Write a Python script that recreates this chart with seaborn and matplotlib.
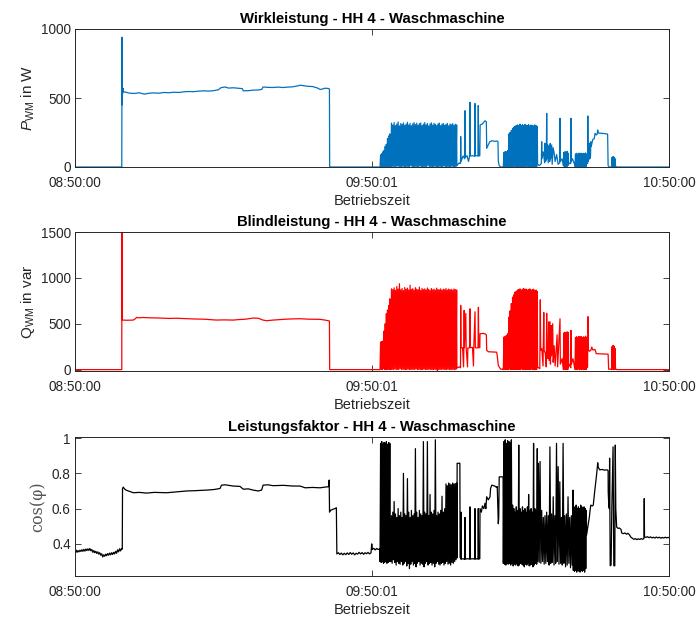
import numpy as np
import pandas as pd
import matplotlib
matplotlib.use("Agg")
import matplotlib.pyplot as plt
from matplotlib.font_manager import FontProperties
import seaborn as sns

# ---------------------------------------------------------------------------
# Time axis: minutes after 08:50:00
# ---------------------------------------------------------------------------
TICK_MIN = [0.0, 60.0167, 120.0]
TICK_LABELS = ["08:50:00", "09:50:01", "10:50:00"]

# ---------------------------------------------------------------------------
# Active power P (W): (minute, value) runs and switching bursts
# ---------------------------------------------------------------------------
P_WASH = [(0, 0), (9.45, 0), (9.5, 940), (9.52, 450), (9.56, 575), (9.6, 530),
          (9.7, 570), (9.8, 545), (10.5, 540), (11, 535), (12, 533), (13, 538),
          (14, 528), (15, 535), (16, 537), (17, 535), (18, 540), (19, 538),
          (20, 542), (21, 540), (22, 545), (23, 547), (24, 546), (25, 550),
          (26, 552), (27, 550), (28, 553), (29, 560), (29.5, 575), (30.3, 580),
          (31, 572), (32, 574), (33, 571), (33.8, 568), (34.0, 552), (35, 553),
          (36, 557), (37, 558), (37.7, 562), (38.0, 580), (39, 577), (40, 576),
          (41, 579), (42, 576), (43, 579), (44, 581), (45, 588), (45.5, 593),
          (46, 590), (47, 585), (48, 583), (49, 572), (49.5, 562), (50, 565),
          (50.5, 571), (51.2, 569), (51.4, 565), (51.45, 0), (61.55, 0)]
P_SPIN1_SPAN = (61.62, 63.60)
P_SPIN1_HI = [88, 96, 110, 120, 150, 165, 205, 225, 240]
P_SPIN1_LO = [0, 3, 0, 5, 0, 2, 0, 4, 0]
P_GAP1 = [(63.68, 4), (63.75, 6)]
P_SPIN2_SPAN = (63.80, 77.10)
P_SPIN2_HI = [318, 305, 322, 300, 312, 326, 298, 315, 309, 320,
              302, 311, 324, 305, 316, 299, 313, 321, 307, 318,
              303, 314, 319, 300, 310, 322, 306, 315, 298, 312,
              320, 304, 317, 309, 301, 313, 318, 300, 311, 315,
              303, 309, 316, 299, 312, 307, 314, 302, 310, 305]
P_SPIN2_LO = [2, 0, 5, 1, 0, 8, 0, 3, 0, 6, 1, 0, 4, 0, 2, 10, 0, 3, 0, 5,
              0, 2, 7, 0, 1, 0, 4, 0, 12, 0, 3, 0, 1, 6, 0, 2, 0, 5, 0, 1,
              8, 0, 3, 0, 2, 0, 6, 0, 1, 4]
P_RINSE1 = [(77.15, 10), (77.6, 30), (77.88, 25), (77.92, 220), (77.97, 40),
            (78.4, 80), (78.72, 60), (78.79, 408), (78.85, 70), (79.2, 82),
            (79.5, 40), (79.72, 80), (79.8, 469), (79.87, 80), (80.3, 82),
            (80.72, 78), (80.81, 460), (80.88, 80), (81.2, 82), (81.4, 80),
            (81.47, 445), (81.55, 80), (81.78, 82), (81.85, 305), (82.3, 312),
            (82.6, 325), (82.83, 335), (83.1, 328), (83.17, 135), (83.5, 162),
            (83.8, 183), (84.2, 190), (84.8, 186), (85.3, 188), (85.45, 183),
            (85.52, 40), (85.7, 10), (86.0, 0), (86.48, 0)]
P_SPIN3_SPAN = (86.53, 93.39)
P_SPIN3_HI = [105, 112, 110, 118, 240, 250, 265, 280, 288, 296,
              300, 305, 298, 310, 302, 306, 299, 308, 303, 300,
              307, 296, 304, 301, 298, 305, 300, 292]
P_SPIN3_LO = [0, 2, 0, 5, 0, 3, 0, 1, 0, 6, 0, 2, 0, 4, 0, 1, 0, 3, 0, 7,
              0, 2, 0, 1, 0, 5, 0, 2]
P_RINSE2 = [(93.45, 20), (93.8, 10), (94.2, 25), (94.28, 183), (94.35, 60),
            (94.6, 110), (94.88, 30), (94.95, 172), (95.02, 40), (95.22, 50),
            (95.29, 389), (95.36, 60), (95.5, 160), (95.6, 30), (95.8, 150),
            (95.9, 40), (96.0, 170), (96.1, 60), (96.3, 160), (96.4, 20),
            (96.6, 140), (96.8, 100), (97.0, 40), (97.3, 90), (97.6, 20),
            (97.92, 30), (97.98, 353), (98.05, 40), (98.4, 60), (98.6, 20)]
P_SPIN4_SPAN = (98.65, 99.66)
P_SPIN4_HI = [105, 111, 108, 113, 100]
P_SPIN4_LO = [10, 0, 5, 0, 8]
P_RINSE3 = [(99.72, 20), (100.0, 30), (100.15, 25), (100.2, 353), (100.26, 40),
            (100.5, 60), (100.8, 30), (100.95, 20)]
P_SPIN5_SPAN = (101.0, 103.37)
P_SPIN5_HI = [95, 99, 92, 101, 97, 100, 94, 99, 96, 102, 93]
P_SPIN5_LO = [5, 0, 8, 0, 3, 0, 6, 0, 2, 0, 4]
P_DRAIN = [(103.45, 30), (103.55, 25), (103.6, 370), (103.66, 40), (103.85, 60),
           (103.9, 172), (104.0, 60), (104.15, 80), (104.2, 183), (104.3, 150),
           (104.6, 200), (104.9, 205), (105.05, 244), (105.3, 232), (105.5, 240),
           (105.6, 268), (105.72, 246), (106.5, 244), (107.0, 242), (107.6, 238),
           (107.7, 10), (108.0, 0), (108.35, 0)]
P_SPIN6_SPAN = (108.4, 109.1)
P_SPIN6_HI = [70, 75, 72, 60]
P_SPIN6_LO = [0, 5, 0, 2]
P_END = [(109.2, 4), (109.5, 0), (120, 0)]

# ---------------------------------------------------------------------------
# Reactive power Q (var)
# ---------------------------------------------------------------------------
Q_WASH = [(0, 0), (9.45, 0), (9.48, 1650), (9.52, 545), (9.7, 540), (10.5, 538),
          (11.78, 540), (12.2, 555), (12.45, 569), (13.0, 565), (13.8, 568),
          (15.0, 565), (17.2, 562), (19.0, 558), (20.5, 560), (22.56, 555),
          (24.0, 552), (26.0, 550), (28.6, 540), (30.0, 542), (31.98, 540),
          (33.0, 545), (34.5, 550), (36.0, 562), (37.0, 560), (38.0, 540),
          (38.7, 533), (40.0, 540), (42.1, 548), (43.5, 552), (45.45, 555),
          (47.0, 550), (49.5, 548), (50.5, 540), (51.2, 533), (51.4, 530),
          (51.45, 0), (61.55, 0)]
Q_SPIN1_HI = [300, 305, 311, 420, 500, 608, 650, 700, 772]
Q_SPIN1_LO = [0, 5, 0, 10, 0, 3, 0, 8, 0]
Q_GAP1 = [(63.68, 5), (63.75, 8)]
Q_SPIN2_HI = [880, 872, 891, 865, 905, 878, 936, 870, 884, 862,
              895, 876, 888, 868, 920, 874, 882, 866, 893, 877,
              870, 899, 864, 885, 872, 880, 868, 890, 875, 862,
              884, 870, 877, 866, 888, 873, 869, 880, 865, 876,
              871, 883, 867, 878, 870, 874, 866, 879, 872, 868]
Q_SPIN2_LO = [0, 3, 0, 8, 0, 2, 0, 12, 0, 5, 0, 1, 0, 6, 0, 2, 0, 4, 0, 9,
              0, 3, 0, 1, 0, 7, 0, 2, 0, 5, 0, 1, 0, 4, 0, -20, 0, 3, 0, 6,
              0, 2, 0, 5, 0, 1, 0, 3, 0, 2]
Q_RINSE1 = [(77.15, 17), (77.6, 30), (77.88, 20), (77.92, 700), (77.98, 239),
            (78.3, 239), (78.5, 30), (78.56, 239), (78.62, 646), (78.68, 239),
            (78.95, 613), (79.02, 239), (79.3, 30), (79.36, 235), (79.72, 239),
            (79.8, 663), (79.87, 239), (80.3, 242), (80.5, 40), (80.56, 239),
            (80.81, 630), (80.88, 239), (81.2, 236), (81.42, 239), (81.5, 680),
            (81.56, 239), (81.78, 240), (81.82, 391), (82.5, 395), (82.83, 390),
            (83.1, 380), (83.17, 210), (83.5, 195), (84.5, 192), (85.19, 190),
            (85.3, 150), (85.52, 47), (85.8, 20), (86.0, 5), (86.48, 5)]
Q_SPIN3_HI = [355, 362, 375, 391, 572, 640, 720, 790, 815, 844,
              855, 868, 872, 880, 866, 875, 884, 870, 878, 868,
              873, 880, 865, 871, 876, 862, 868, 850]
Q_SPIN3_LO = [0, 4, 0, 2, 0, 6, 0, 1, 0, 3, 0, 5, 0, 2, 0, 8, 0, 1, 0, 4,
              0, 2, 0, 6, 0, 1, 0, 3]
Q_RINSE2 = [(93.45, 30), (93.9, 10), (94.0, 761), (94.08, 210), (94.3, 230),
            (94.55, 40), (94.7, 622), (94.78, 210), (95.0, 180), (95.2, 30),
            (95.29, 614), (95.36, 200), (95.55, 120), (95.7, 520), (95.78, 100),
            (95.96, 522), (96.05, 60), (96.2, 480), (96.3, 150), (96.5, 500),
            (96.6, 80), (96.8, 260), (97.0, 40), (97.4, 380), (97.5, 30),
            (97.98, 554), (98.05, 60), (98.4, 120), (98.6, 20)]
Q_SPIN4_HI = [400, 409, 395, 412, 405]
Q_SPIN4_LO = [0, 5, 0, 3, 0]
Q_RINSE3 = [(99.72, 30), (100.0, 60), (100.15, 20), (100.2, 427), (100.28, 60),
            (100.6, 120), (100.95, 20)]
Q_SPIN5_HI = [350, 358, 345, 362, 355, 360, 348, 357, 352, 365, 350]
Q_SPIN5_LO = [0, 5, 0, 8, 0, 3, 0, 6, 0, 2, 0]
Q_DRAIN = [(103.45, 20), (103.55, 30), (103.62, 577), (103.7, 220), (103.9, 200),
           (104.2, 210), (104.4, 246), (104.6, 215), (105.05, 220), (105.3, 174),
           (106.0, 172), (107.0, 170), (107.7, 168), (107.8, 5), (108.35, 5)]
Q_SPIN6_HI = [250, 264, 255, 230]
Q_SPIN6_LO = [0, 5, 0, 2]
Q_END = [(109.2, 5), (109.5, 0), (120, 0)]

# ---------------------------------------------------------------------------
# Power factor cos(phi)
# ---------------------------------------------------------------------------
C_STANDBY = [(0.0, 0.356), (0.2, 0.366), (0.4, 0.352), (0.6, 0.362), (0.8, 0.355),
             (1.0, 0.364), (1.2, 0.357), (1.4, 0.367), (1.6, 0.358), (1.8, 0.369),
             (2.0, 0.359), (2.2, 0.371), (2.4, 0.362), (2.6, 0.372), (2.8, 0.363),
             (3.0, 0.374), (3.2, 0.361), (3.4, 0.368), (3.6, 0.352), (3.8, 0.362),
             (4.0, 0.350), (4.2, 0.358), (4.4, 0.346), (4.6, 0.355), (4.8, 0.342),
             (5.0, 0.350), (5.2, 0.336), (5.4, 0.344), (5.6, 0.326), (5.8, 0.338),
             (6.0, 0.330), (6.2, 0.342), (6.4, 0.333), (6.6, 0.345), (6.8, 0.336),
             (7.0, 0.348), (7.2, 0.338), (7.4, 0.350), (7.6, 0.340), (7.8, 0.352),
             (8.0, 0.343), (8.2, 0.358), (8.4, 0.347), (8.6, 0.366), (8.8, 0.355),
             (9.0, 0.372), (9.2, 0.360), (9.4, 0.374), (9.55, 0.370)]
C_WASH = [(9.6, 0.714), (9.75, 0.722), (10.0, 0.712), (10.3, 0.705), (11.0, 0.698),
          (11.78, 0.690), (13.0, 0.692), (14.48, 0.688), (16.0, 0.692), (18.52, 0.690),
          (20.5, 0.695), (22.56, 0.700), (24.5, 0.702), (26.6, 0.705), (28.0, 0.708),
          (29.29, 0.714), (29.6, 0.733), (30.3, 0.735), (31.98, 0.728), (33.33, 0.726),
          (34.0, 0.710), (35.0, 0.712), (36.0, 0.705), (37.0, 0.700), (37.7, 0.705),
          (38.0, 0.733), (39.0, 0.735), (40.0, 0.730), (42.1, 0.732), (44.0, 0.728),
          (45.45, 0.728), (46.5, 0.718), (48.0, 0.720), (49.5, 0.718), (50.5, 0.722),
          (51.2, 0.724), (51.35, 0.762), (51.42, 0.580), (51.6, 0.590), (52.0, 0.595),
          (52.5, 0.600), (52.8, 0.605)]
C_IDLE = [(52.9, 0.343), (53.2, 0.350), (53.5, 0.340), (53.8, 0.348), (54.1, 0.338),
          (54.4, 0.347), (54.7, 0.339), (55.0, 0.349), (55.3, 0.340), (55.6, 0.351),
          (55.9, 0.341), (56.2, 0.349), (56.5, 0.338), (56.8, 0.347), (57.1, 0.342),
          (57.4, 0.352), (57.7, 0.343), (58.0, 0.351), (58.3, 0.341), (58.6, 0.350),
          (58.9, 0.344), (59.2, 0.352), (59.5, 0.343), (59.8, 0.350), (59.95, 0.400),
          (60.05, 0.368), (60.35, 0.375), (60.65, 0.366), (60.95, 0.374),
          (61.25, 0.368), (61.55, 0.372)]
C_SPIN1_HI = [0.97, 0.98, 0.96, 0.975, 0.97, 0.98, 0.965, 0.975, 0.97]
C_SPIN1_LO = [0.30, 0.295, 0.30, 0.29, 0.295, 0.30, 0.29, 0.295, 0.30]
C_GAP1 = [(63.68, 0.30), (63.75, 0.30)]
C_SPIN2_HI = [0.56, 0.58, 0.64, 0.57, 0.55, 0.60, 0.56, 0.58, 0.55, 0.80,
              0.57, 0.56, 0.77, 0.58, 0.55, 0.59, 0.56, 0.57, 0.94, 0.58,
              0.55, 0.59, 0.57, 0.56, 0.98, 0.58, 0.57, 0.98, 0.56, 0.68,
              0.58, 0.57, 0.59, 0.99, 0.56, 0.58, 0.57, 0.59, 0.67, 0.58,
              0.60, 0.74, 0.73, 0.745, 0.74, 0.735, 0.745, 0.74, 0.742, 0.745]
C_SPIN2_LO = [0.30, 0.29, 0.31, 0.295, 0.28, 0.30, 0.29, 0.285, 0.30, 0.28,
              0.29, 0.30, 0.275, 0.29, 0.26, 0.285, 0.30, 0.28, 0.29, 0.27,
              0.29, 0.30, 0.28, 0.29, 0.285, 0.27, 0.29, 0.30, 0.28, 0.29,
              0.295, 0.28, 0.29, 0.27, 0.29, 0.30, 0.285, 0.28, 0.29, 0.295,
              0.28, 0.29, 0.30, 0.285, 0.29, 0.28, 0.295, 0.29, 0.30, 0.31]
C_RINSE1 = [(77.15, 0.32), (77.2, 0.857), (77.75, 0.857), (77.8, 0.324), (77.95, 0.314),
            (78.0, 0.58), (78.05, 0.314), (78.4, 0.316), (78.7, 0.312), (78.79, 0.55),
            (78.85, 0.314), (79.3, 0.316), (79.72, 0.314), (79.8, 0.61), (79.87, 0.314),
            (80.3, 0.316), (80.74, 0.314), (80.81, 0.60), (80.88, 0.314), (81.2, 0.316),
            (81.4, 0.314), (81.47, 0.60), (81.55, 0.314), (81.78, 0.316), (81.82, 0.60),
            (82.1, 0.58), (82.3, 0.615), (82.6, 0.60), (82.83, 0.63), (83.0, 0.60),
            (83.17, 0.667), (83.5, 0.65), (83.84, 0.667), (83.95, 0.714), (84.2, 0.733),
            (84.8, 0.728), (85.19, 0.72), (85.3, 0.725), (85.52, 0.514), (85.6, 0.55),
            (85.7, 0.78), (86.2, 0.78), (86.48, 0.78)]
C_SPIN3_HI = [0.98, 0.99, 0.97, 0.985, 0.98, 0.975, 0.99, 0.62, 0.60, 0.58,
              0.61, 0.59, 0.96, 0.60, 0.58, 0.61, 0.59, 0.60, 0.58, 0.61,
              0.68, 0.59, 0.60, 0.58, 0.97, 0.60, 0.59, 0.94]
C_SPIN3_LO = [0.29, 0.285, 0.28, 0.29, 0.285, 0.29, 0.28, 0.29, 0.275, 0.285,
              0.28, 0.29, 0.275, 0.28, 0.29, 0.285, 0.28, 0.27, 0.285, 0.28,
              0.29, 0.275, 0.28, 0.285, 0.27, 0.28, 0.29, 0.285]
C_RINSE2_SPAN = (93.45, 100.6)
C_RINSE2_HI = [0.857, 0.867, 0.59, 0.55, 0.56, 0.58, 0.56, 0.95, 0.57, 0.667, 0.56,
               0.97, 0.838, 0.752, 0.55, 0.97, 0.56, 0.57, 0.667, 0.55, 0.56, 0.705]
C_RINSE2_LO = [0.30, 0.295, 0.29, 0.30, 0.285, 0.29, 0.30, 0.28, 0.29, 0.295, 0.28,
               0.29, 0.30, 0.285, 0.29, 0.28, 0.29, 0.27, 0.28, 0.29, 0.265, 0.28]
C_SPIN5_SPAN = (100.67, 103.3)
C_SPIN5_HI = [0.60, 0.61, 0.62, 0.60, 0.61, 0.60, 0.62, 0.61, 0.60, 0.61, 0.60, 0.59]
C_SPIN5_LO = [0.25, 0.245, 0.25, 0.24, 0.25, 0.245, 0.24, 0.25, 0.245, 0.25, 0.24, 0.26]
C_DRAIN = [(103.35, 0.45), (103.6, 0.495), (103.9, 0.55), (104.05, 0.59), (104.2, 0.62),
           (104.5, 0.615), (104.7, 0.62), (105.0, 0.70), (105.4, 0.80), (105.6, 0.86),
           (105.7, 0.835), (106.0, 0.82), (106.5, 0.822), (107.0, 0.818), (107.5, 0.82),
           (107.7, 0.815), (107.72, 0.695), (107.85, 0.61), (107.95, 0.60), (108.0, 0.886),
           (108.06, 0.58), (108.12, 0.276), (108.3, 0.28), (108.45, 0.60), (108.7, 0.95),
           (108.78, 0.60), (108.85, 0.276), (109.05, 0.276), (109.15, 0.96), (109.25, 0.60)]
C_END = [(109.43, 0.495), (109.7, 0.488), (110.0, 0.490), (110.3, 0.482), (110.45, 0.462),
         (110.8, 0.458), (111.1, 0.462), (111.4, 0.455), (111.7, 0.460), (112.0, 0.452),
         (112.3, 0.438), (112.6, 0.432), (112.9, 0.426), (113.2, 0.430), (113.5, 0.424),
         (113.8, 0.429), (114.1, 0.425), (114.4, 0.430), (114.7, 0.426), (114.95, 0.432),
         (115.0, 0.657), (115.05, 0.440), (115.35, 0.437), (115.65, 0.441), (115.95, 0.435),
         (116.25, 0.440), (116.55, 0.434), (116.85, 0.438), (117.15, 0.433), (117.45, 0.439),
         (117.75, 0.434), (118.05, 0.438), (118.35, 0.432), (118.65, 0.437), (118.95, 0.433),
         (119.25, 0.438), (119.55, 0.434), (119.85, 0.437), (120.0, 0.435)]

# Shared spans of the switching phases
SPIN1_SPAN = P_SPIN1_SPAN
SPIN2_SPAN = P_SPIN2_SPAN
SPIN3_SPAN = P_SPIN3_SPAN
SPIN4_SPAN = P_SPIN4_SPAN
SPIN5_SPAN = P_SPIN5_SPAN
SPIN6_SPAN = P_SPIN6_SPAN


def burst(span, highs, lows):
    """Samples alternating between trough and peak readings over a time span."""
    if len(highs) != len(lows):
        raise ValueError("peak and trough lists differ in length")
    n = len(highs)
    t = np.linspace(span[0], span[1], 2 * n)
    v = np.empty(2 * n)
    v[0::2] = lows
    v[1::2] = highs
    return list(zip(t, v))


def assemble(*pieces):
    pts = np.array([p for piece in pieces for p in piece], dtype=float)
    return pd.DataFrame({"minute": pts[:, 0], "value": pts[:, 1]})


p_df = assemble(P_WASH, burst(SPIN1_SPAN, P_SPIN1_HI, P_SPIN1_LO), P_GAP1,
                burst(SPIN2_SPAN, P_SPIN2_HI, P_SPIN2_LO), P_RINSE1,
                burst(SPIN3_SPAN, P_SPIN3_HI, P_SPIN3_LO), P_RINSE2,
                burst(SPIN4_SPAN, P_SPIN4_HI, P_SPIN4_LO), P_RINSE3,
                burst(SPIN5_SPAN, P_SPIN5_HI, P_SPIN5_LO), P_DRAIN,
                burst(SPIN6_SPAN, P_SPIN6_HI, P_SPIN6_LO), P_END)
q_df = assemble(Q_WASH, burst(SPIN1_SPAN, Q_SPIN1_HI, Q_SPIN1_LO), Q_GAP1,
                burst(SPIN2_SPAN, Q_SPIN2_HI, Q_SPIN2_LO), Q_RINSE1,
                burst(SPIN3_SPAN, Q_SPIN3_HI, Q_SPIN3_LO), Q_RINSE2,
                burst(SPIN4_SPAN, Q_SPIN4_HI, Q_SPIN4_LO), Q_RINSE3,
                burst(SPIN5_SPAN, Q_SPIN5_HI, Q_SPIN5_LO), Q_DRAIN,
                burst(SPIN6_SPAN, Q_SPIN6_HI, Q_SPIN6_LO), Q_END)
c_df = assemble(C_STANDBY, C_WASH, C_IDLE,
                burst(SPIN1_SPAN, C_SPIN1_HI, C_SPIN1_LO), C_GAP1,
                burst(SPIN2_SPAN, C_SPIN2_HI, C_SPIN2_LO), C_RINSE1,
                burst(SPIN3_SPAN, C_SPIN3_HI, C_SPIN3_LO),
                burst(C_RINSE2_SPAN, C_RINSE2_HI, C_RINSE2_LO),
                burst(C_SPIN5_SPAN, C_SPIN5_HI, C_SPIN5_LO), C_DRAIN, C_END)

# ---------------------------------------------------------------------------
# Styling
# ---------------------------------------------------------------------------
sns.set_theme(style="ticks")
plt.rcParams["font.family"] = ["Liberation Sans", "DejaVu Sans"]
plt.rcParams["mathtext.fontset"] = "custom"
plt.rcParams["mathtext.rm"] = "Liberation Sans"
plt.rcParams["mathtext.it"] = "Liberation Sans:italic"
plt.rcParams["mathtext.bf"] = "Liberation Sans:bold"

INK = "#262626"
FS_TICK = 9.8
FS_LABEL = 10.5
FS_TITLE = 10.7
LW = 0.9

fig = plt.figure(figsize=(6.99, 6.18), dpi=100)
W = 594 / 699
L = 75 / 699
ax_p = fig.add_axes([L, 1 - 167 / 618, W, 138 / 618])
ax_q = fig.add_axes([L, 1 - 371 / 618, W, 139 / 618])
ax_c = fig.add_axes([L, 1 - 576 / 618, W, 139 / 618])

sns.lineplot(data=p_df, x="minute", y="value", ax=ax_p, color="#0072BD",
             linewidth=LW, estimator=None, sort=False, errorbar=None)
sns.lineplot(data=q_df, x="minute", y="value", ax=ax_q, color="#FF0000",
             linewidth=LW, estimator=None, sort=False, errorbar=None)
sns.lineplot(data=c_df, x="minute", y="value", ax=ax_c, color="#000000",
             linewidth=LW, estimator=None, sort=False, errorbar=None)

titles = ["Wirkleistung - HH 4 - Waschmaschine",
          "Blindleistung - HH 4 - Waschmaschine",
          "Leistungsfaktor - HH 4 - Waschmaschine"]

for ax, title in zip([ax_p, ax_q, ax_c], titles):
    ax.set_xlim(0, 120)
    ax.set_xticks(TICK_MIN, TICK_LABELS)
    ax.tick_params(direction="in", top=True, right=True, length=4.3, width=0.6,
                   colors=INK, labelsize=FS_TICK)
    ax.tick_params(axis="x", pad=6.5)
    ax.tick_params(axis="y", pad=3)
    for sp in ax.spines.values():
        sp.set_color(INK)
        sp.set_linewidth(0.7)
        sp.set_visible(True)
    ax.set_xlabel("Betriebszeit", fontsize=FS_LABEL, color=INK, labelpad=3)
    ax.set_title(title, fontsize=FS_TITLE, fontweight="bold", color="black", pad=4)

ax_p.set_ylim(0, 1000)
ax_p.set_yticks([0, 500, 1000], ["0", "500", "1000"])
ax_p.set_ylabel(r"$P_{\mathrm{WM}}$ in W", fontsize=FS_LABEL + 0.5, color=INK,
                labelpad=3)

ax_q.set_ylim(-15, 1500)
ax_q.set_yticks([0, 500, 1000, 1500], ["0", "500", "1000", "1500"])
ax_q.set_ylabel(r"Q$_{\mathrm{WM}}$ in var", fontsize=FS_LABEL + 0.5, color=INK,
                labelpad=3)

ax_c.set_ylim(0.218, 1.006)
ax_c.set_yticks([0.4, 0.6, 0.8, 1.0], ["0.4", "0.6", "0.8", "1"])
cm_font = FontProperties(family="DejaVu Serif", size=11.5)
try:
    cm_font.set_math_fontset("cm")
    cos_label = r"$\cos(\varphi)$"
except AttributeError:
    cos_label = "cos(φ)"
ax_c.set_ylabel(cos_label, fontproperties=cm_font, color="#555555", labelpad=4)

fig.savefig("out.png", dpi=100)
